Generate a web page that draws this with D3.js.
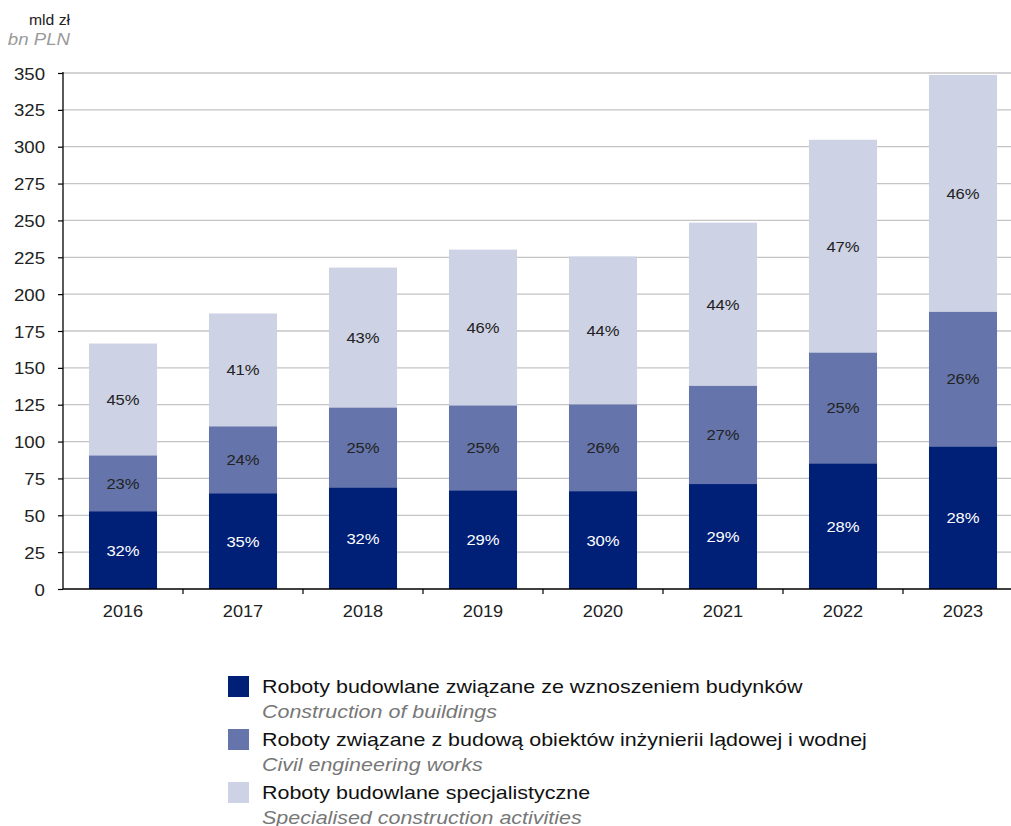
<!DOCTYPE html>
<html>
<head>
<meta charset="utf-8">
<script src="https://cdn.jsdelivr.net/npm/d3@7"></script>
<style>
    body { margin: 0; background: #fff; }
    svg { display: block; font-family: "Liberation Sans", Arial, sans-serif; }
</style>
</head>
<body>
<svg id="chart" width="1011" height="826"></svg>
<script>
'use strict'

const years = ['2016', '2017', '2018', '2019', '2020', '2021', '2022', '2023']
const buildings = [52.8, 65, 69, 67, 66.4, 71.2, 85.3, 96.8]
const civil = [37.9, 45.4, 54.2, 57.6, 58.9, 66.8, 75.2, 91.4]
const specialised = [75.8, 76.5, 94.8, 105.6, 100.2, 110.5, 144.2, 160.5]
const pctBuildings = ['32%', '35%', '32%', '29%', '30%', '29%', '28%', '28%']
const pctCivil = ['23%', '24%', '25%', '25%', '26%', '27%', '25%', '26%']
const pctSpecialised = ['45%', '41%', '43%', '46%', '44%', '44%', '47%', '46%']
const yTicks = [0, 25, 50, 75, 100, 125, 150, 175, 200, 225, 250, 275, 300, 325, 350]

const seriesNames = [
    ['Roboty budowlane związane ze wznoszeniem budynków', 'Construction of buildings'],
    ['Roboty związane z budową obiektów inżynierii lądowej i wodnej', 'Civil engineering works'],
    ['Roboty budowlane specjalistyczne', 'Specialised construction activities']
]
const colors = ['#001f77', '#6575ab', '#cdd2e5']
const labelColors = ['#ffffff', '#222222', '#222222']

const svg = d3.select('#chart')
const plotLeft = 63
const plotBottom = 589
const plotTop = 73

// the source chart has slightly wide lettering, so text gets stretched a bit
const stretch = (sel, sx) => {
    sel.each(function () {
        const t = d3.select(this)
        const tx = +t.attr('x') || 0
        const ty = +t.attr('y') || 0
        t.attr('x', 0).attr('y', 0)
            .attr('transform', `translate(${tx},${ty}) scale(${sx},1)`)
    })
}

const x = d3.scaleBand()
    .domain(years)
    .range([plotLeft, plotLeft + 960])
    .paddingInner(0.433)
    .paddingOuter(0.2165)

const y = d3.scaleLinear()
    .domain([0, 350])
    .range([plotBottom, plotTop])

// gridlines
svg.append('g')
    .selectAll('line')
    .data(yTicks.filter(d => d > 0))
    .join('line')
    .attr('x1', plotLeft)
    .attr('x2', 1011)
    .attr('y1', d => y(d))
    .attr('y2', d => y(d))
    .attr('stroke', '#c4c4c4')
    .attr('stroke-width', 1.3)

const table = years.map((yr, i) => ({
    year: yr,
    s0: buildings[i], s1: civil[i], s2: specialised[i],
    p0: pctBuildings[i], p1: pctCivil[i], p2: pctSpecialised[i]
}))

const stacked = d3.stack().keys(['s0', 's1', 's2'])(table)

const groups = svg.append('g')
    .selectAll('g')
    .data(stacked)
    .join('g')
    .attr('fill', (d, i) => colors[i])

groups.selectAll('rect')
    .data(d => d)
    .join('rect')
    .attr('x', d => x(d.data.year))
    .attr('width', x.bandwidth())
    .attr('y', d => y(d[1]))
    .attr('height', d => y(d[0]) - y(d[1]))

const labels = svg.append('g')
stacked.forEach((layer, i) => {
    const t = labels.append('g')
        .selectAll('text')
        .data(layer)
        .join('text')
        .attr('x', d => x(d.data.year) + x.bandwidth() / 2)
        .attr('y', d => (y(d[0]) + y(d[1])) / 2 + 5.5)
        .attr('text-anchor', 'middle')
        .attr('font-size', 15.5)
        .attr('fill', labelColors[i])
        .text(d => d.data['p' + i])
    stretch(t, 1.07)
})

// y axis
const yAxis = svg.append('g')
    .attr('transform', `translate(${plotLeft},0)`)
    .call(d3.axisLeft(y).tickValues(yTicks).tickSize(5).tickPadding(6))
yAxis.select('.domain').attr('stroke', '#000').attr('stroke-width', 1.3)
    .attr('d', `M0,${plotTop - 1}V${plotBottom}`)
yAxis.selectAll('.tick line').attr('stroke', '#000').attr('stroke-width', 1.2)
const yText = yAxis.selectAll('.tick text')
    .attr('font-size', 16.5)
    .attr('fill', '#222')
    .attr('font-family', '"Liberation Sans", Arial, sans-serif')
    .attr('dy', null)
    .attr('x', -18)
    .attr('y', 6)
stretch(yText, 1.13)

// x axis
const xAxis = svg.append('g')
    .attr('transform', `translate(0,${plotBottom})`)
    .call(d3.axisBottom(x).tickSize(0))
xAxis.select('.domain').attr('stroke', '#000').attr('stroke-width', 1.3)
    .attr('d', `M${plotLeft},0H1011`)
const xText = xAxis.selectAll('.tick text')
    .attr('font-size', 16.5)
    .attr('fill', '#222')
    .attr('font-family', '"Liberation Sans", Arial, sans-serif')
    .attr('dy', null)
    .attr('y', 28)
stretch(xText, 1.1)

const step = x.step()
svg.append('g')
    .selectAll('line')
    .data(years.slice(1))
    .join('line')
    .attr('x1', d => x(d) - x.paddingInner() * step / 2)
    .attr('x2', d => x(d) - x.paddingInner() * step / 2)
    .attr('y1', plotBottom)
    .attr('y2', plotBottom + 5)
    .attr('stroke', '#000')
    .attr('stroke-width', 1.2)

// unit labels
const unitPl = svg.append('text')
    .attr('x', 70)
    .attr('y', 25)
    .attr('text-anchor', 'end')
    .attr('font-size', 15)
    .attr('fill', '#222')
    .text('mld zł')
stretch(unitPl, 1.05)
const unitEn = svg.append('text')
    .attr('x', 70)
    .attr('y', 45)
    .attr('text-anchor', 'end')
    .attr('font-size', 16.5)
    .attr('font-style', 'italic')
    .attr('fill', '#9a9a9a')
    .text('bn PLN')
stretch(unitEn, 1.13)

// legend
const legend = svg.append('g')
    .selectAll('g')
    .data(seriesNames)
    .join('g')
    .attr('transform', (d, i) => `translate(228,${676 + i * 53})`)

legend.append('rect')
    .attr('width', 21)
    .attr('height', 21)
    .attr('fill', (d, i) => colors[i])

const legPl = legend.append('text')
    .attr('x', 34)
    .attr('y', 17)
    .attr('font-size', 19)
    .attr('fill', '#111')
    .text(d => d[0])
stretch(legPl, 1.13)

const legEn = legend.append('text')
    .attr('x', 34)
    .attr('y', 42)
    .attr('font-size', 19)
    .attr('font-style', 'italic')
    .attr('fill', '#777')
    .text(d => d[1])
stretch(legEn, 1.13)
</script>
</body>
</html>
